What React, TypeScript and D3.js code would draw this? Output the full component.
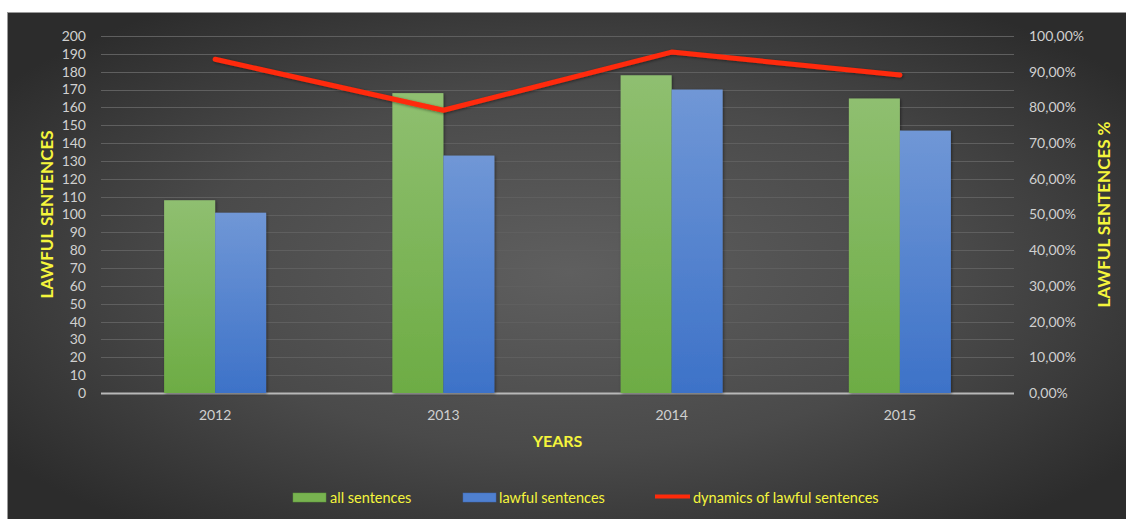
import React from "react";
import * as d3 from "d3";

const years = ["2012", "2013", "2014", "2015"];
const allSentences = [108, 168, 178, 165];
const lawfulSentences = [101, 133, 170, 147];
const dynamics = [93.5, 79.2, 95.5, 89.1];
const leftTicks = d3.range(0, 201, 10);
const rightTicks = d3.range(0, 101, 10);
const seriesNames = ["all sentences", "lawful sentences"];

const W = 1126;
const H = 519;
const M = { left: 101, right: 1014, top: 36, bottom: 393 };
const FONT = "Lato, 'Open Sans', sans-serif";
const YELLOW = "#f5f53c";
const TICK = "#d0d0d0";

export default function App() {
  const x0 = d3.scaleBand<string>().domain(years).range([M.left, M.right]).padding(0);
  const groupW = 102;
  const x1 = d3.scaleBand<string>().domain(seriesNames).range([0, groupW]).padding(0);
  const yL = d3.scaleLinear().domain([0, 200]).range([M.bottom, M.top]);
  const yR = d3.scaleLinear().domain([0, 100]).range([M.bottom, M.top]);
  const cx = (y: string) => (x0(y) as number) + x0.bandwidth() / 2;
  const gx = (y: string) => cx(y) - groupW / 2;

  const line = d3
    .line<number>()
    .x((_, i) => cx(years[i]))
    .y((d) => yR(d));

  const fmtPct = (v: number) => v.toFixed(2).replace(".", ",") + "%";

  return (
    <svg
      width={W}
      height={H}
      style={{ position: "absolute", left: 0, top: 0, display: "block" }}
      fontFamily={FONT}
    >
      <defs>
        <radialGradient id="bg" cx="0.5" cy="0.5" r="0.62" fx="0.5" fy="0.5">
          <stop offset="0%" stopColor="#5f5f5f" />
          <stop offset="55%" stopColor="#4a4a4a" />
          <stop offset="100%" stopColor="#2c2c2c" />
        </radialGradient>
        <linearGradient id="gGreen" x1="0" y1="0" x2="0" y2="1">
          <stop offset="0%" stopColor="#8fbf70" />
          <stop offset="100%" stopColor="#6dac44" />
        </linearGradient>
        <linearGradient id="gBlue" x1="0" y1="0" x2="0" y2="1">
          <stop offset="0%" stopColor="#7097d6" />
          <stop offset="100%" stopColor="#3d72c8" />
        </linearGradient>
        <filter id="shadow" x="-20%" y="-20%" width="140%" height="140%">
          <feDropShadow dx="1" dy="1" stdDeviation="1.5" floodColor="#000" floodOpacity="0.45" />
        </filter>
      </defs>
      <rect x={0} y={0} width={W} height={H} fill="#ffffff" />
      <rect x={7.5} y={12.5} width={W} height={H} fill="url(#bg)" stroke="#9a9a9a" strokeWidth={1} />

      {/* gridlines */}
      {leftTicks.map((t) => (
        <line
          key={"g" + t}
          x1={M.left}
          x2={M.right}
          y1={Math.round(yL(t)) + 0.5}
          y2={Math.round(yL(t)) + 0.5}
          stroke={t === 0 ? "#b8b8b8" : "#5f5f5f"}
          strokeWidth={t === 0 ? 2 : 1}
        />
      ))}

      {/* left ticks */}
      {leftTicks.map((t) => (
        <text key={"l" + t} x={86} y={yL(t)} dy="0.35em" textAnchor="end" fontSize={14} fill={TICK}>
          {t}
        </text>
      ))}
      {/* right ticks */}
      {rightTicks.map((t) => (
        <text key={"r" + t} x={1029} y={yR(t)} dy="0.35em" textAnchor="start" fontSize={14} fill={TICK}>
          {fmtPct(t)}
        </text>
      ))}

      {/* bars */}
      {years.map((yr, i) => (
        <g key={"b" + yr} filter="url(#shadow)">
          <rect
            x={gx(yr) + (x1(seriesNames[0]) as number)}
            y={yL(allSentences[i])}
            width={x1.bandwidth()}
            height={yL(0) - yL(allSentences[i])}
            fill="url(#gGreen)"
          />
          <rect
            x={gx(yr) + (x1(seriesNames[1]) as number)}
            y={yL(lawfulSentences[i])}
            width={x1.bandwidth()}
            height={yL(0) - yL(lawfulSentences[i])}
            fill="url(#gBlue)"
          />
        </g>
      ))}

      {/* category labels */}
      {years.map((yr) => (
        <text key={"c" + yr} x={cx(yr)} y={415} dy="0.35em" textAnchor="middle" fontSize={14} fill={TICK}>
          {yr}
        </text>
      ))}

      {/* line */}
      <path
        d={line(dynamics) as string}
        fill="none"
        stroke="#ff2a0a"
        strokeWidth={5}
        strokeLinejoin="round"
        strokeLinecap="round"
        filter="url(#shadow)"
      />

      {/* axis titles */}
      <text
        transform={`translate(47,${(M.top + M.bottom) / 2}) rotate(-90)`}
        dy="0.35em"
        textAnchor="middle"
        fontSize={17}
        fontWeight="bold"
        fill={YELLOW}
      >
        LAWFUL SENTENCES
      </text>
      <text
        transform={`translate(1104,${(M.top + M.bottom) / 2}) rotate(-90)`}
        dy="0.35em"
        textAnchor="middle"
        fontSize={17}
        fontWeight="bold"
        fill={YELLOW}
      >
        LAWFUL SENTENCES %
      </text>
      <text x={(M.left + M.right) / 2} y={441} dy="0.35em" textAnchor="middle" fontSize={16} fontWeight="bold" fill={YELLOW}>
        YEARS
      </text>

      {/* legend */}
      <g>
        <rect x={293} y={493} width={33} height={9} fill="#78b350" stroke="#5e9a3a" strokeWidth={0.5} />
        <text x={330} y={498} dy="0.35em" fontSize={14.5} fill={YELLOW}>
          {seriesNames[0]}
        </text>
        <rect x={463} y={493} width={33} height={9} fill="#4f80d0" stroke="#3d6ab8" strokeWidth={0.5} />
        <text x={499} y={498} dy="0.35em" fontSize={14.5} fill={YELLOW}>
          {seriesNames[1]}
        </text>
        <line x1={655} x2={690} y1={496.5} y2={496.5} stroke="#ff2a0a" strokeWidth={4} />
        <text x={693} y={498} dy="0.35em" fontSize={14.5} fill={YELLOW}>
          dynamics of lawful sentences
        </text>
      </g>
    </svg>
  );
}
